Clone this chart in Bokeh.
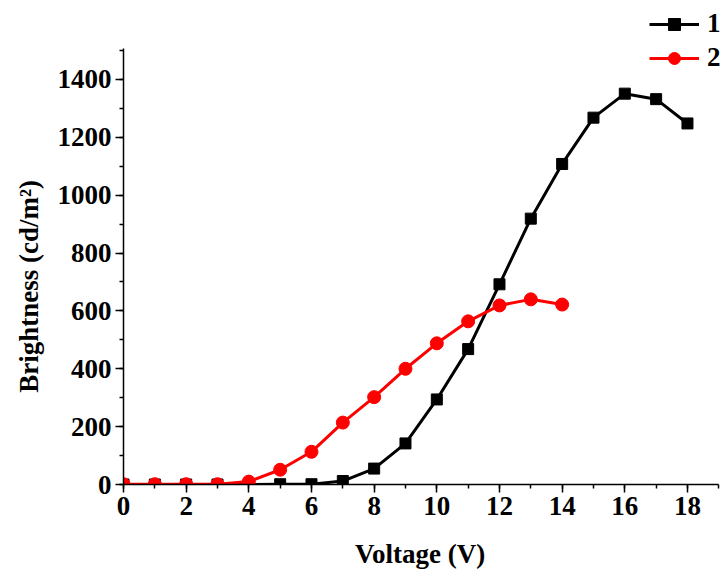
from bokeh.plotting import figure
from bokeh.models import Range1d, Legend, LegendItem, FixedTicker
from bokeh.embed import file_html
from bokeh.resources import INLINE

voltage1 = [0, 1, 2, 3, 4, 5, 6, 7, 8, 9, 10, 11, 12, 13, 14, 15, 16, 17, 18]
bright1 = [0, 0, 0, 0, 0, 1, 1, 12, 55, 142, 294, 468, 692, 919, 1108, 1268, 1351, 1332, 1248]
voltage2 = [0, 1, 2, 3, 4, 5, 6, 7, 8, 9, 10, 11, 12, 13, 14]
bright2 = [1, 1, 1, 1, 10, 51, 113, 214, 302, 400, 488, 564, 619, 640, 622]
x_ticks = [0, 2, 4, 6, 8, 10, 12, 14, 16, 18]
y_ticks = [0, 200, 400, 600, 800, 1000, 1200, 1400]
labels = ["1", "2"]

FONT = "Liberation Serif"
Y_AXIS_TOP = 1507
X_AXIS_END = 19

# frame extends to the top and right edges so the legend is not clipped;
# the axis lines are limited with bounds
p = figure(width=723, height=575, output_backend="svg", toolbar_location=None,
           x_range=Range1d(0, 19.15), y_range=Range1d(0, 1673),
           min_border_left=123, min_border_right=0, min_border_top=0, min_border_bottom=91)
p.outline_line_color = None
p.xgrid.visible = False
p.ygrid.visible = False
p.background_fill_color = "white"
p.border_fill_color = "white"

p.xaxis.ticker = FixedTicker(ticks=x_ticks, minor_ticks=list(range(0, 20)))
p.yaxis.ticker = FixedTicker(ticks=y_ticks, minor_ticks=list(range(0, 1600, 100)))
p.yaxis.bounds = (0, Y_AXIS_TOP)
p.xaxis.bounds = (0, X_AXIS_END)

for ax in (p.xaxis[0], p.yaxis[0]):
    ax.axis_line_width = 1.5
    ax.axis_line_color = "black"
    ax.major_tick_line_width = 1.5
    ax.minor_tick_line_width = 1.5
    ax.major_tick_in = 0
    ax.major_tick_out = 8
    ax.minor_tick_in = 0
    ax.minor_tick_out = 4
    ax.major_label_text_font = FONT
    ax.major_label_text_font_style = "bold"
    ax.major_label_text_font_size = "27px"
    ax.major_label_text_color = "black"
    ax.axis_label_text_font = FONT
    ax.axis_label_text_font_style = "bold"
    ax.axis_label_text_font_size = "27px"
    ax.axis_label_text_color = "black"

p.xaxis.axis_label = "Voltage (V)" + "\u00a0" * 1
p.yaxis.axis_label = "Brightness (cd/m²)" + "\u00a0" * 13
p.xaxis.major_label_standoff = 4
p.yaxis.major_label_standoff = 4
p.xaxis.axis_label_standoff = 21
p.yaxis.axis_label_standoff = 11

l1 = p.line(voltage1, bright1, line_color="black", line_width=3)
m1 = p.scatter(voltage1, bright1, marker="square", size=11, fill_color="black", line_color="black")
l2 = p.line(voltage2, bright2, line_color="#ff0000", line_width=3)
m2 = p.scatter(voltage2, bright2, marker="circle", size=13, fill_color="#ff0000", line_color="#ff0000")

legend = Legend(items=[LegendItem(label=labels[0], renderers=[l1, m1]),
                       LegendItem(label=labels[1], renderers=[l2, m2])],
                location=(526, 411), padding=0, margin=0, spacing=3,
                glyph_width=50, glyph_height=30, label_standoff=8,
                border_line_alpha=0, background_fill_alpha=0,
                label_text_font=FONT, label_text_font_style="bold",
                label_text_font_size="27px", label_text_color="black")
p.add_layout(legend)

open("out.html", "w").write(file_html(p, INLINE))
